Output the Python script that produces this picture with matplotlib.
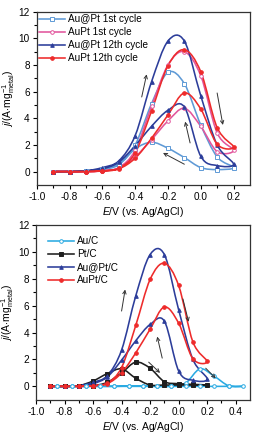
import numpy as np
import matplotlib
matplotlib.use("Agg")
import matplotlib.pyplot as plt
from matplotlib.path import Path
from matplotlib.patches import PathPatch

plt.rcParams['font.family'] = ['Liberation Sans', 'DejaVu Sans']
plt.rcParams['mathtext.fontset'] = 'custom'
plt.rcParams['mathtext.rm'] = 'Liberation Sans'
plt.rcParams['mathtext.it'] = 'Liberation Sans:italic'

# potential grid for the scans (V vs Ag/AgCl)
e_fwd = [-0.9, -0.8, -0.7, -0.6, -0.5, -0.4, -0.3, -0.2, -0.1, 0.0, 0.1, 0.2]
e_bwd = e_fwd[::-1]

# top panel: 1st and 12th cycles (A/mg metal)
aupt_core_1_fwd = [0, 0, 0.05, 0.2, 0.6, 2.0, 5.1, 7.45, 6.6, 3.5, 1.1, 0.3]
aupt_core_1_bwd = [0.3, 0.15, 0.3, 1.05, 1.75, 2.2, 1.7, 0.5, 0.15, 0.05, 0, 0]
aupt_alloy_1_fwd = [0, 0, 0, 0.05, 0.3, 1.6, 4.9, 8.0, 9.0, 7.2, 2.9, 1.6]
aupt_alloy_1_bwd = [1.6, 1.5, 3.4, 4.75, 3.8, 2.4, 1.1, 0.25, 0.05, 0, 0, 0]
aupt_core_12_fwd = [0, 0, 0.05, 0.3, 0.8, 2.7, 6.75, 9.8, 9.8, 5.7, 2.0, 0.55]
aupt_core_12_bwd = [0.55, 0.45, 1.15, 4.85, 4.6, 3.4, 1.95, 0.7, 0.2, 0.05, 0, 0]
aupt_alloy_12_fwd = [0, 0, 0, 0.05, 0.25, 1.4, 4.55, 7.95, 9.15, 7.5, 3.3, 1.85]
aupt_alloy_12_bwd = [1.85, 2.05, 4.7, 5.9, 4.25, 2.5, 1.0, 0.2, 0.05, 0, 0, 0]

# bottom panel: Au/C and Pt/C references
e_auc_fwd = [-0.85, -0.75, -0.65, -0.55, -0.45, -0.35, -0.25, -0.15, -0.05,
             0.05, 0.15, 0.25, 0.35, 0.45]
e_auc_bwd = e_auc_fwd[::-1]
auc_fwd = [0, 0, 0, 0, 0, 0, 0, 0, 0.02, 0.25, 1.3, 0.75, 0.05, 0]
auc_bwd = [0, 0, 0, 0, 0, 0, 0, 0.02, 0.02, 0, 0, 0, 0, 0]
ptc_fwd = [0, 0, 0.05, 0.4, 0.95, 1.3, 0.6, 0.1, 0.1, 0.1, 0.1, 0.1]
ptc_bwd = [0.1, 0.15, 0.2, 0.35, 1.35, 1.8, 1.0, 0.3, 0.05, 0, 0, 0]

top_labels = ['Au@Pt 1st cycle', 'AuPt 1st cycle', 'Au@Pt 12th cycle', 'AuPt 12th cycle']
bot_labels = ['Au/C', 'Pt/C', 'Au@Pt/C', 'AuPt/C']

LIGHTBLUE = '#5f9ad6'
PINK = '#e2559c'
NAVY = '#2c3d9a'
RED = '#ee2b2b'
CYAN = '#2aaae2'
BLACK = '#1e1e1e'


def smooth(x, y):
    # catmull-rom through the measured points, drawn as bezier curves
    pts = np.column_stack([x, y]).astype(float)
    n = len(pts)
    verts = [pts[0]]
    codes = [Path.MOVETO]
    for i in range(n - 1):
        p0 = pts[max(i - 1, 0)]
        p1 = pts[i]
        p2 = pts[i + 1]
        p3 = pts[min(i + 2, n - 1)]
        verts += [p1 + (p2 - p0) / 6, p2 - (p3 - p1) / 6, p2]
        codes += [Path.CURVE4] * 3
    return Path(verts, codes)


def trace(ax, xf, yf, xb, yb, color, marker, mfc, label, ms=2.6):
    x = list(xf) + list(xb[1:])
    y = list(yf) + list(yb[1:])
    ax.add_patch(PathPatch(smooth(x, y), facecolor='none', edgecolor=color,
                           lw=1.15, transform=ax.transData, zorder=2))
    ax.plot(x, y, linestyle='none', marker=marker, color=color, mfc=mfc,
            mec=color, ms=ms, mew=0.7, zorder=3)
    ax.plot([], [], color=color, lw=1.15, marker=marker, mfc=mfc, mec=color,
            ms=ms, mew=0.7, label=label)


def arrow(ax, start, end):
    ax.annotate('', xy=end, xytext=start,
                arrowprops=dict(arrowstyle='->', color='#333333', lw=0.7,
                                shrinkA=0, shrinkB=0, mutation_scale=6))


def style(ax, xmax, xticks):
    ax.set_xlim(-1.0, xmax)
    ax.set_ylim(-1, 12)
    ax.set_xticks(xticks)
    ax.set_xticklabels(['%.1f' % t for t in xticks])
    ax.set_xticks(np.arange(-0.9, xmax, 0.2), minor=True)
    ax.set_yticks(range(0, 13, 2))
    ax.set_yticks(range(1, 12, 2), minor=True)
    ax.tick_params(which='both', direction='out', top=False, right=False,
                   labelsize=7.2, width=0.8, pad=2)
    ax.tick_params(which='major', length=3)
    ax.tick_params(which='minor', length=2)
    for s in ax.spines.values():
        s.set_linewidth(0.9)
        s.set_color('#333333')
    ax.set_xlabel(r'$E$/V (vs. Ag/AgCl)', fontsize=7.5, labelpad=2)
    ax.set_ylabel(r'$j$/(A$\cdot$mg$_{\mathrm{metal}}^{-1}$)', fontsize=7.5,
                  labelpad=1)


fig = plt.figure(figsize=(2.59, 4.36), dpi=100)
ax1 = fig.add_axes([0.142, 0.576, 0.823, 0.397])
ax2 = fig.add_axes([0.139, 0.083, 0.826, 0.401])

trace(ax1, e_fwd, aupt_core_1_fwd, e_bwd, aupt_core_1_bwd, LIGHTBLUE, 's', 'white', top_labels[0])
trace(ax1, e_fwd, aupt_alloy_1_fwd, e_bwd, aupt_alloy_1_bwd, PINK, 'o', 'white', top_labels[1])
trace(ax1, e_fwd, aupt_core_12_fwd, e_bwd, aupt_core_12_bwd, NAVY, '^', NAVY, top_labels[2])
trace(ax1, e_fwd, aupt_alloy_12_fwd, e_bwd, aupt_alloy_12_bwd, RED, 'o', RED, top_labels[3])
arrow(ax1, (-0.36, 5.6), (-0.33, 7.3))
arrow(ax1, (0.1, 5.9), (0.135, 3.5))
arrow(ax1, (-0.065, 2.15), (-0.095, 3.75))
arrow(ax1, (-0.1, 0.55), (-0.23, 1.4))
style(ax1, 0.3, [-1.0, -0.8, -0.6, -0.4, -0.2, 0.0, 0.2])
ax1.legend(loc='upper left', bbox_to_anchor=(-0.02, 1.02), frameon=False,
           fontsize=7.2, handlelength=2.6, handletextpad=0.3, labelspacing=0.3,
           borderaxespad=0.2)

trace(ax2, e_auc_fwd, auc_fwd, e_auc_bwd, auc_bwd, CYAN, 'o', 'white', bot_labels[0])
trace(ax2, e_fwd, ptc_fwd, e_bwd, ptc_bwd, BLACK, 's', BLACK, bot_labels[1])
trace(ax2, e_fwd, aupt_core_12_fwd, e_bwd, aupt_core_12_bwd, NAVY, '^', NAVY, bot_labels[2])
trace(ax2, e_fwd, aupt_alloy_12_fwd, e_bwd, aupt_alloy_12_bwd, RED, 'o', RED, bot_labels[3])
arrow(ax2, (-0.4, 5.6), (-0.375, 7.2))
arrow(ax2, (0.03, 6.5), (0.07, 4.8))
arrow(ax2, (-0.115, 2.1), (-0.15, 3.7))
arrow(ax2, (-0.21, 1.8), (-0.13, 1.0))
arrow(ax2, (0.19, 1.35), (0.26, 0.6))
style(ax2, 0.5, [-1.0, -0.8, -0.6, -0.4, -0.2, 0.0, 0.2, 0.4])
ax2.legend(loc='upper left', bbox_to_anchor=(0.03, 0.97), frameon=False,
           fontsize=7.2, handlelength=2.6, handletextpad=0.3, labelspacing=0.3,
           borderaxespad=0.2)

fig.savefig('out.png', dpi=100)
